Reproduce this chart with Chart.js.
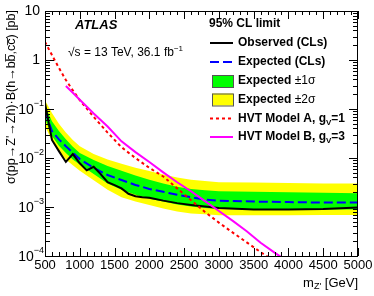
<!DOCTYPE html>
<html>
<head>
<meta charset="utf-8">
<script src="https://cdn.jsdelivr.net/npm/chart.js@4/dist/chart.umd.min.js"></script>
<style>
  body { margin: 0; background: #fff; }
  canvas { display: block; }
</style>
</head>
<body>
<canvas id="limit-chart" width="374" height="296"></canvas>
<script>
// Z' -> Zh limit, cross section x BR in pb vs m_Z' in GeV
const massObs = [500, 600, 700, 800, 900, 1000, 1100, 1200, 1300, 1400, 1500, 1600, 1700, 1800, 1900, 2000, 2200, 2400, 2600, 2800, 3000, 3500, 4000, 4500, 5000];
const observed = [0.132, 0.0234, 0.0138, 0.0083, 0.0120, 0.0078, 0.0056, 0.0066, 0.0047, 0.0032, 0.0028, 0.0024, 0.00186, 0.00166, 0.00158, 0.00155, 0.00135, 0.00120, 0.00110, 0.00102, 0.00095, 0.00089, 0.00089, 0.00091, 0.00098];

const massExp = [500, 600, 700, 800, 900, 1000, 1200, 1400, 1600, 1800, 2000, 2200, 2400, 2600, 2800, 3000, 3500, 4000, 4500, 5000];
const expected = [0.089, 0.0355, 0.0240, 0.0174, 0.0129, 0.0095, 0.0063, 0.0045, 0.00355, 0.00282, 0.00234, 0.00204, 0.00178, 0.00158, 0.00141, 0.00135, 0.00129, 0.00126, 0.00123, 0.00123];
const exp1Up = [0.117, 0.056, 0.0355, 0.0240, 0.0170, 0.0126, 0.0091, 0.0069, 0.0055, 0.0044, 0.0036, 0.0030, 0.0026, 0.00234, 0.00219, 0.00209, 0.00204, 0.00200, 0.00195, 0.00191];
const exp1Dn = [0.063, 0.0282, 0.0178, 0.0126, 0.0093, 0.0074, 0.0047, 0.0030, 0.00224, 0.00178, 0.00148, 0.00129, 0.00112, 0.00102, 0.00095, 0.00091, 0.00089, 0.00089, 0.00089, 0.00089];
const exp2Up = [0.151, 0.083, 0.050, 0.033, 0.0234, 0.0174, 0.0120, 0.0093, 0.0076, 0.0063, 0.0054, 0.0046, 0.0040, 0.0036, 0.0034, 0.0032, 0.00316, 0.0031, 0.0030, 0.0030];
const exp2Dn = [0.045, 0.0224, 0.0135, 0.0093, 0.0071, 0.0055, 0.0035, 0.00224, 0.00158, 0.00129, 0.00110, 0.00093, 0.00081, 0.00074, 0.00071, 0.00068, 0.00068, 0.00068, 0.00069, 0.00069];

const massHvtA = [500, 600, 700, 800, 900, 1000, 1200, 1400, 1600, 1800, 2000, 2200, 2400, 2600, 2800, 3000, 3200, 3400, 3600, 3800];
const hvtA = [2.34, 1.26, 0.69, 0.39, 0.24, 0.151, 0.069, 0.033, 0.0166, 0.0100, 0.0063, 0.0042, 0.0024, 0.00138, 0.00079, 0.00048, 0.00030, 0.00019, 0.00012, 0.000079];
const massHvtB = [800, 900, 1000, 1200, 1400, 1600, 1800, 2000, 2200, 2400, 2600, 2800, 3000, 3200, 3400, 3600, 3800, 4000];
const hvtB = [0.295, 0.214, 0.155, 0.081, 0.044, 0.0219, 0.0132, 0.0083, 0.0051, 0.0032, 0.0021, 0.00132, 0.00083, 0.00052, 0.00032, 0.000186, 0.000117, 0.000076];

const xTickLabels = [500, 1000, 1500, 2000, 2500, 3000, 3500, 4000, 4500, 5000];
const yTickExps = [1, 0, -1, -2, -3, -4];

const FONT = '"Liberation Sans", Arial, sans-serif';

function pts(xs, ys) {
  return xs.map((x, i) => ({ x: x, y: ys[i] }));
}

function line(data, color, width, dash, order, fill, bg) {
  return {
    data: data,
    borderColor: color,
    borderWidth: width,
    borderDash: dash || [],
    backgroundColor: bg || 'transparent',
    fill: fill || false,
    order: order,
    pointRadius: 0,
    tension: 0,
    clip: 0
  };
}

// text with sub/superscript pieces: [text, fontSize, dy, bold]
function drawRuns(ctx, runs, x, y, align) {
  let total = 0;
  runs.forEach(r => {
    ctx.font = (r[3] ? 'bold ' : '') + r[1] + 'px ' + FONT;
    r.w = ctx.measureText(r[0]).width;
    total += r.w;
  });
  let cx = align === 'right' ? x - total : x;
  ctx.textAlign = 'left';
  ctx.textBaseline = 'middle';
  runs.forEach(r => {
    ctx.font = (r[3] ? 'bold ' : '') + r[1] + 'px ' + FONT;
    ctx.fillText(r[0], cx, y + r[2]);
    cx += r.w;
  });
}

const decorations = {
  id: 'decorations',
  afterDraw(chart) {
    const ctx = chart.ctx;
    const a = chart.chartArea;
    const xs = chart.scales.x;
    const ys = chart.scales.y;
    ctx.save();
    ctx.fillStyle = '#000';
    ctx.strokeStyle = '#000';
    ctx.lineWidth = 1;

    // frame
    ctx.strokeRect(Math.round(a.left) + 0.5, Math.round(a.top) + 0.5, Math.round(a.right - a.left) - 1, Math.round(a.bottom - a.top));

    // x ticks, bottom and top
    ctx.beginPath();
    for (let m = 500; m <= 5000; m += 100) {
      const px = Math.round(xs.getPixelForValue(m)) + 0.5;
      const len = m % 500 === 0 ? 8 : 4;
      ctx.moveTo(px, a.bottom); ctx.lineTo(px, a.bottom - len);
      ctx.moveTo(px, a.top); ctx.lineTo(px, a.top + len);
    }
    // y ticks, left and right
    for (let e = -4; e <= 1; e++) {
      for (let k = 1; k <= 9; k++) {
        const v = k * Math.pow(10, e);
        if (v > 10.0001) break;
        const py = Math.round(ys.getPixelForValue(v)) + 0.5;
        const len = k === 1 ? 9 : 5;
        ctx.moveTo(a.left, py); ctx.lineTo(a.left + len, py);
        ctx.moveTo(a.right, py); ctx.lineTo(a.right - len, py);
      }
    }
    ctx.stroke();

    // x tick labels
    ctx.font = '13px ' + FONT;
    ctx.textAlign = 'center';
    ctx.textBaseline = 'middle';
    xTickLabels.forEach(m => {
      ctx.fillText(String(m), xs.getPixelForValue(m), a.bottom + 9);
    });

    // y tick labels
    yTickExps.forEach(e => {
      const py = ys.getPixelForValue(Math.pow(10, e));
      if (e === 1) drawRuns(ctx, [['10', 14, 0]], 40, py, 'right');
      else if (e === 0) drawRuns(ctx, [['1', 14, 0]], 40, py, 'right');
      else drawRuns(ctx, [['10', 14, 1], ['\u2212' + (-e), 9, -5]], 44, py, 'right');
    });

    // axis titles
    drawRuns(ctx, [['m', 13, 0], ["Z'", 9, 4], [' [GeV]', 13, 0]], a.right, 283, 'right');
    ctx.save();
    ctx.translate(12, 0);
    ctx.rotate(-Math.PI / 2);
    ctx.font = '12.5px ' + FONT;
    ctx.textAlign = 'right';
    ctx.textBaseline = 'middle';
    ctx.fillText("\u03c3(pp\u2192Z'\u2192Zh)\u00b7B(h\u2192bb\u0305,cc\u0305) [pb]", -10, 0);
    ctx.restore();

    // ATLAS label
    ctx.font = 'italic bold 13px ' + FONT;
    ctx.textAlign = 'left';
    ctx.textBaseline = 'middle';
    ctx.fillText('ATLAS', 75, 25);
    drawRuns(ctx, [['\u221as = 13 TeV, 36.1 fb', 12, 0], ['\u22121', 8, -4]], 68, 53, 'left');

    // legend
    drawRuns(ctx, [['95% CL limit', 12, 0, true]], 209, 24, 'left');
    const lx0 = 210, lx1 = 233, tx = 238;
    const rows = [43, 62, 81, 99.5, 118.5, 137];
    function legLine(y, color, dash) {
      ctx.save();
      ctx.strokeStyle = color;
      ctx.lineWidth = 2;
      ctx.setLineDash(dash);
      ctx.beginPath();
      ctx.moveTo(lx0, y); ctx.lineTo(lx1, y);
      ctx.stroke();
      ctx.restore();
    }
    function legBox(y, color) {
      ctx.fillStyle = color;
      ctx.fillRect(212, y - 6, 21, 12);
      ctx.strokeStyle = '#555';
      ctx.lineWidth = 1;
      ctx.strokeRect(212.5, y - 5.5, 21, 12);
      ctx.fillStyle = '#000';
    }
    legLine(rows[0], '#000', []);
    drawRuns(ctx, [['Observed (CLs)', 12, 0, true]], tx, rows[0], 'left');
    legLine(rows[1], '#0000ff', [9, 4]);
    drawRuns(ctx, [['Expected (CLs)', 12, 0, true]], tx, rows[1], 'left');
    legBox(rows[2], '#00ff00');
    drawRuns(ctx, [['Expected ', 12, 0, true], ['\u00b11\u03c3', 12, 0]], tx, rows[2], 'left');
    legBox(rows[3], '#ffff00');
    drawRuns(ctx, [['Expected ', 12, 0, true], ['\u00b12\u03c3', 12, 0]], tx, rows[3], 'left');
    legLine(rows[4], '#ff0000', [3, 3]);
    drawRuns(ctx, [['HVT Model A, g', 12, 0, true], ['V', 8, 4, true], ['=1', 12, 0, true]], tx, rows[4], 'left');
    legLine(rows[5], '#ff00ff', []);
    drawRuns(ctx, [['HVT Model B, g', 12, 0, true], ['V', 8, 4, true], ['=3', 12, 0, true]], tx, rows[5], 'left');

    ctx.restore();
  }
};

new Chart(document.getElementById('limit-chart').getContext('2d'), {
  type: 'line',
  data: {
    datasets: [
      line(pts(massExp, exp2Up), 'transparent', 0, null, 10, '+1', '#ffff00'),
      line(pts(massExp, exp2Dn), 'transparent', 0, null, 10),
      line(pts(massExp, exp1Up), 'transparent', 0, null, 9, '+1', '#00ff00'),
      line(pts(massExp, exp1Dn), 'transparent', 0, null, 9),
      line(pts(massExp, expected), '#0000ff', 2, [9, 4], 4),
      line(pts(massObs, observed), '#000000', 2, null, 3),
      line(pts(massHvtA, hvtA), '#ff0000', 2, [3, 3], 2),
      line(pts(massHvtB, hvtB), '#ff00ff', 2, null, 1)
    ]
  },
  options: {
    responsive: false,
    animation: false,
    layout: { padding: { left: 45, right: 16, top: 11, bottom: 40 } },
    plugins: { legend: { display: false }, tooltip: { enabled: false } },
    scales: {
      x: { type: 'linear', min: 500, max: 5000, display: false },
      y: { type: 'logarithmic', min: 1e-4, max: 10, display: false }
    }
  },
  plugins: [decorations]
});
</script>
</body>
</html>
